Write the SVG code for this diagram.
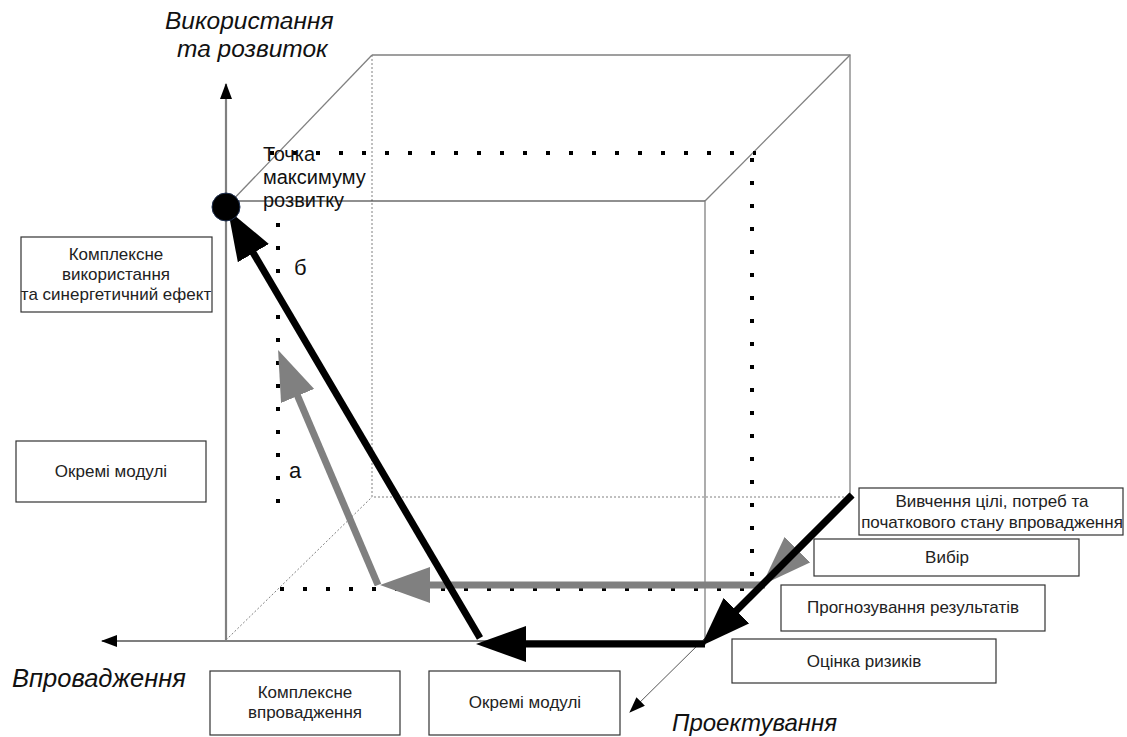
<svg xmlns="http://www.w3.org/2000/svg" width="1127" height="737" viewBox="0 0 1127 737">
<style>
.cube{stroke:#808080;stroke-width:1.3;fill:none}
.hid{stroke:#808080;stroke-width:1;fill:none;stroke-dasharray:2 2}
.dots{stroke:#000;stroke-width:4;fill:none;stroke-dasharray:4 19}
.box{fill:#fff;stroke:#333;stroke-width:1.2}
.bt{font-family:"Liberation Sans",Arial,sans-serif;font-size:17px;fill:#222;text-anchor:middle}
.ax{font-family:"Liberation Sans",Arial,sans-serif;font-size:24.5px;font-style:italic;fill:#111}
.lb{font-family:"Liberation Sans",Arial,sans-serif;font-size:20px;fill:#111}
.bk{stroke:#000;stroke-width:7;fill:none}
.gr{stroke:#808080;stroke-width:7;fill:none}
</style>
<defs>
<marker id="hb" viewBox="0 0 50 36" refX="8" refY="18" markerWidth="50" markerHeight="36" markerUnits="userSpaceOnUse" orient="auto"><path d="M0,0 L50,18 L0,36 z" fill="#000"/></marker>
<marker id="hg" viewBox="0 0 50 36" refX="8" refY="18" markerWidth="50" markerHeight="36" markerUnits="userSpaceOnUse" orient="auto"><path d="M0,0 L50,18 L0,36 z" fill="#808080"/></marker>
<marker id="hs" viewBox="0 0 16 12" refX="15" refY="6" markerWidth="16" markerHeight="12" markerUnits="userSpaceOnUse" orient="auto"><path d="M0,0 L16,6 L0,12 z" fill="#000"/></marker>
</defs>
<g id="cube">
<path class="cube" d="M372,55 H850 V495"/>
<path class="hid" d="M372,55 V497 H850"/>
<path class="hid" d="M226,640 L372,497"/>
<path class="cube" d="M226,207 L372,55"/>
<path class="cube" d="M705,201 L850,55"/>
<path d="M226,201 H705" stroke="#222" stroke-width="1.2" fill="none"/>
<path class="cube" d="M705,201 V645"/>
</g>
<g id="dotted-square">
<path class="dots" d="M270,153 H756"/>
<path class="dots" d="M752,158 V592"/>
<path class="dots" d="M280,589 H756"/>
<path class="dots" d="M278,223 V505"/>
</g>
<g id="axes">
<line x1="226" y1="640" x2="226" y2="84" stroke="#808080" stroke-width="2.2" marker-end="url(#hs)"/>
<line x1="705" y1="641" x2="102" y2="641" stroke="#000" stroke-width="1.2" marker-end="url(#hs)"/>
<line x1="850" y1="495" x2="630" y2="712" stroke="#555" stroke-width="1" marker-end="url(#hs)"/>
</g>
<g id="connectors">
<line class="gr" x1="852" y1="495" x2="791.7" y2="555.3" marker-end="url(#hg)"/>
<line class="gr" x1="765" y1="585" x2="422" y2="585" marker-end="url(#hg)"/>
<line class="gr" x1="378" y1="585" x2="294.5" y2="388.6" marker-end="url(#hg)"/>
<line class="bk" x1="852" y1="495" x2="730.7" y2="616.3" marker-end="url(#hb)"/>
<line class="bk" x1="705" y1="644" x2="518" y2="644" marker-end="url(#hb)"/>
<line class="bk" x1="480" y1="638" x2="249.3" y2="246.2" marker-end="url(#hb)"/>
</g>
<g id="max-point">
<circle cx="226" cy="207" r="14" fill="#000" stroke="#1f3050" stroke-width="1"/>
<text class="lb" x="263" y="161">Точка</text>
<text class="lb" x="263" y="184">максимуму</text>
<text class="lb" x="263" y="207">розвитку</text>
</g>
<text class="lb" x="294" y="275" style="font-size:22px">б</text>
<text class="lb" x="289" y="478" style="font-size:22px">а</text>
<text class="ax" x="165" y="29">Використання</text>
<text class="ax" x="177" y="57">та розвиток</text>
<text class="ax" x="12" y="687" style="font-size:25.5px">Впровадження</text>
<text class="ax" x="672" y="731" style="font-size:24px">Проектування</text>
<g id="box-complex-use">
<rect class="box" x="21" y="237" width="191" height="75"/>
<text class="bt" x="116" y="260">Комплексне</text>
<text class="bt" x="116" y="280">використання</text>
<text class="bt" x="116" y="300">та синергетичний ефект</text>
</g>
<g id="box-modules-left">
<rect class="box" x="16" y="441" width="190" height="61"/>
<text class="bt" x="111" y="477">Окремі модулі</text>
</g>
<g id="box-study">
<rect class="box" x="859" y="488" width="264" height="47"/>
<text class="bt" x="992" y="507">Вивчення цілі, потреб та</text>
<text class="bt" x="992" y="528">початкового стану впровадження</text>
</g>
<g id="box-choice">
<rect class="box" x="814" y="539" width="265" height="37"/>
<text class="bt" x="947" y="563">Вибір</text>
</g>
<g id="box-forecast">
<rect class="box" x="781" y="585" width="264" height="46"/>
<text class="bt" x="913" y="613">Прогнозування результатів</text>
</g>
<g id="box-risk">
<rect class="box" x="732" y="639" width="264" height="44"/>
<text class="bt" x="864" y="667">Оцінка ризиків</text>
</g>
<g id="box-complex-impl">
<rect class="box" x="210" y="671" width="190" height="64"/>
<text class="bt" x="305" y="698">Комплексне</text>
<text class="bt" x="305" y="718">впровадження</text>
</g>
<g id="box-modules-bottom">
<rect class="box" x="429" y="671" width="191" height="64"/>
<text class="bt" x="525" y="708">Окремі модулі</text>
</g>
</svg>
